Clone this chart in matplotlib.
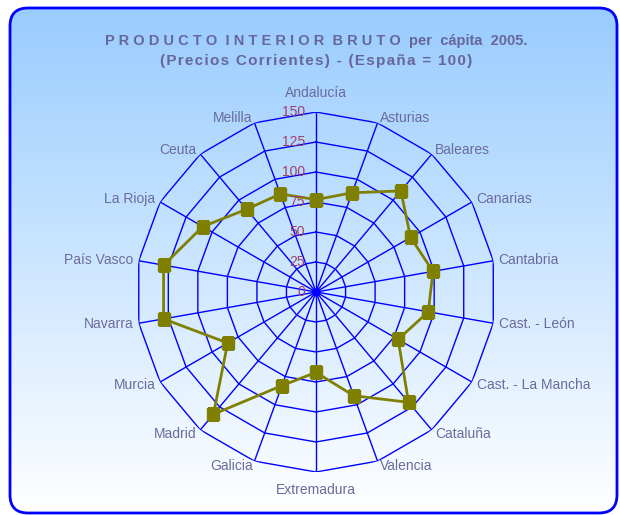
import numpy as np
import matplotlib
matplotlib.use('Agg')
import matplotlib.pyplot as plt
from matplotlib.patches import FancyBboxPatch

# GDP per capita 2005 by region (Spain = 100)
regions = ['Andalucía', 'Asturias', 'Baleares', 'Canarias', 'Cantabria',
           'Cast. - León', 'Cast. - La Mancha', 'Cataluña', 'Valencia',
           'Extremadura', 'Galicia', 'Madrid', 'Murcia', 'Navarra',
           'País Vasco', 'La Rioja', 'Ceuta', 'Melilla']
gdp = [77, 88, 110, 91, 99, 95, 79, 120, 92, 67, 83, 133, 85, 129, 129, 109, 90, 87]
rings = [0, 25, 50, 75, 100, 125, 150]

plt.rcParams['font.family'] = ['Liberation Sans', 'DejaVu Sans']
label_col = '#6b6b9b'
grid_col = '#0000ff'

fig = plt.figure(figsize=(6.2, 5.15), dpi=100)

# gradient background with rounded blue border
bg = fig.add_axes([0, 0, 1, 1])
bg.set_xlim(0, 620)
bg.set_ylim(0, 515)
bg.axis('off')
grad = np.linspace(0, 1, 256).reshape(-1, 1)
top = np.array([0.60, 0.80, 1.0])
bot = np.array([1.0, 1.0, 1.0])
img = (bot + (top - bot) * grad).reshape(256, 1, 3)
im = bg.imshow(img, extent=[10, 617, 2, 507], origin='lower', aspect='auto')
box = FancyBboxPatch((10, 2), 607, 505, boxstyle='round,pad=0,rounding_size=18',
                     fc='none', ec=grid_col, lw=2)
bg.add_patch(box)
im.set_clip_path(box)


def spaced(s, sep='\u200a'):
    # slight letter spacing like the original title
    return sep.join(s)


fig.text(0.51, 0.921, 'P R O D U C T O  I N T E R I O R  B R U T O  per  cápita  2005.',
         ha='center', va='center', fontsize=10.5, fontweight='bold', color='#666699')
fig.text(0.51, 0.881, spaced('(Precios Corrientes) - (España = 100)'),
         ha='center', va='center', fontsize=11, fontweight='bold', color='#666699')

ax = fig.add_axes([0.2194, 0.0835, 0.5806, 0.699], projection='polar')
ax.set_theta_zero_location('N')
ax.set_theta_direction(-1)
ax.patch.set_alpha(0)
ax.spines['polar'].set_visible(False)
ax.grid(False)
ax.set_xticks([])
ax.set_yticks([])
ax.set_ylim(0, 150)

n = len(regions)
angles = np.arange(n) * 2 * np.pi / n
closed = np.append(angles, angles[0])

# polygon grid and spokes
for r in rings[1:]:
    ax.plot(closed, [r] * (n + 1), color=grid_col, lw=1)
for a in angles:
    ax.plot([a, a], [0, 150], color=grid_col, lw=1)
ax.plot([0], [0], 'o', color=grid_col, markersize=5)

# radial tick labels
for r in rings:
    ax.annotate(str(r), xy=(0, r), xytext=(-8, 0), textcoords='offset points',
                ha='right', va='center', fontsize=10, color='#a0406a')

# series
vals = np.append(gdp, gdp[0])
ax.plot(closed, vals, color='#808000', lw=2, marker='s', markersize=8,
        markerfacecolor='#808000', markeredgecolor='#808000')

# category labels
for a, name in zip(angles, regions):
    s, c = np.sin(a), np.cos(a)
    ha = 'center' if abs(s) < 0.1 else ('left' if s > 0 else 'right')
    va = 'center'
    off = 4
    if c > 0.95:
        va = 'bottom'
        off = 9
    elif c < -0.95:
        va = 'top'
        off = 8
    ax.annotate(name, xy=(a, 150), xytext=(off * s, off * c), textcoords='offset points',
                ha=ha, va=va, fontsize=10, color=label_col)

fig.savefig('out.png', dpi=100)
